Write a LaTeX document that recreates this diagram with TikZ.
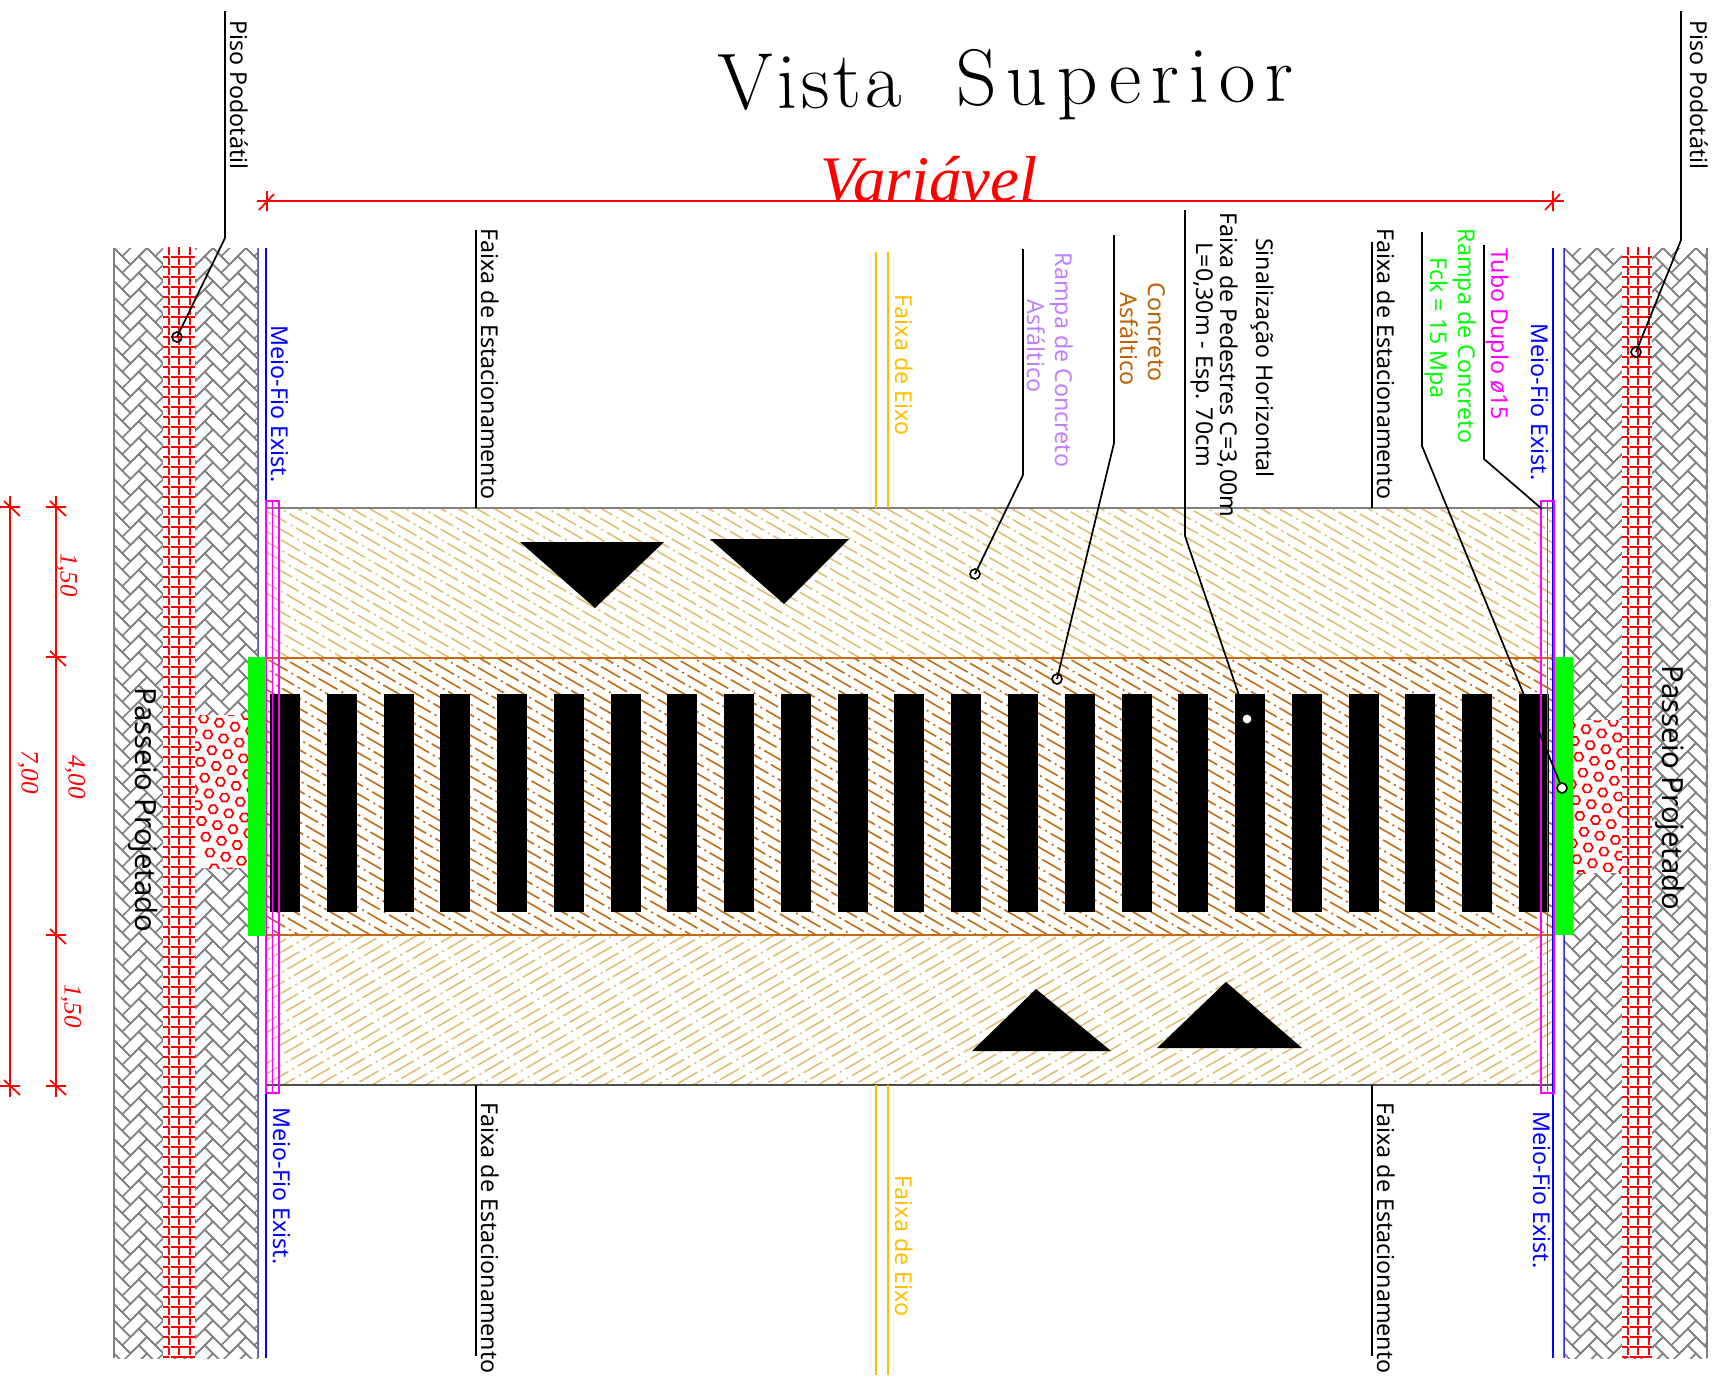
\documentclass[tikz,border=0pt]{standalone}
\usepackage{fontspec}
\setmainfont{Noto Sans}
\newfontfamily\titlefont{Latin Modern Roman}
\newfontfamily\dimfont[Ligatures=TeX]{Liberation Serif}
\usepackage{xcolor}
\usepackage{tikz}
\usetikzlibrary{positioning, calc}

\definecolor{beige}{HTML}{E0C070}
\definecolor{brownhatch}{HTML}{C46A10}
\definecolor{eixo}{HTML}{FFBF00}
\definecolor{rampa}{HTML}{BF80FF}
\definecolor{concreto}{HTML}{BF6000}
\definecolor{paving}{HTML}{808080}
\definecolor{tubo}{HTML}{FF00FF}

\begin{document}
\begin{tikzpicture}[
    x=1pt, y=-1pt,
    txt/.style={rotate=-90, inner sep=0pt, font=\fontsize{23.2}{24}\selectfont},
    bigtxt/.style={rotate=-90, inner sep=0pt, font=\fontsize{29.2}{31}\selectfont},
    dimtxt/.style={rotate=-90, inner sep=0pt, text=red, font=\dimfont\itshape\fontsize{25}{25}\selectfont},
    dimline/.style={draw=red, line width=1.7pt},
    leader/.style={draw=black, line width=1.7pt},
    leaderdot/.style={circle, draw=black, line width=1.6pt, minimum size=10pt, inner sep=0pt},
    tile/.style={draw=paving, line width=1.5pt},
    hatchline/.style={line width=1.6pt, dash pattern=on 22pt off 4.5pt on 2pt off 4.2pt},
    hexring/.style={draw=red, line width=1.7pt}
]
\useasboundingbox (0,0) rectangle (1715,1376);

% Paving on both sides
\foreach \xa/\xb in {114/258, 1564/1707} {
    \begin{scope}
    \clip (\xa,248) rectangle (\xb,1358);
    \foreach \j in {-1,...,5} {
        \foreach \i in {-1,...,68} {
            \draw[tile, shift={(\xa+33*\j,248+16.5*\i)}, rotate=-45] (0,0) rectangle (23.3,11.67) (23.3,-11.67) rectangle (35,11.67);
        }
    }
    \end{scope}
    \draw[draw=paving, line width=2pt] (\xa,248) -- (\xa,1358);
    \draw[draw=paving, line width=2pt] (\xb,248) -- (\xb,1358);
}

% Red mesh of the tactile floor
\foreach \xa/\xb in {163/195, 1622/1652} {
    \fill[white] (\xa,248) rectangle (\xb,1358);
    \foreach \k in {0,...,110} {
        \draw[red, line width=1.7pt, dash pattern=on 6pt off 1.5pt on 30pt] (\xa,257+10*\k) -- (\xb,257+10*\k);
    }
    \foreach \d in {6,16,27} {
        \draw[red, line width=1.7pt, dash pattern=on 8pt off 2pt] (\xa+\d,247) -- (\xa+\d,1358);
    }
}

% Rounded stones beside the ramps
\foreach \xa/\xb/\ya/\yb/\xo/\yo in {195/248/715/868/219.3/722.7, 1573/1622/720/873/1586/729.3} {
    \begin{scope}
    \clip (\xa,\ya) rectangle (\xb,\yb);
    \fill[white] (\xa,\ya) rectangle (\xb,\yb);
    \foreach \i in {-3,...,3} {
        \foreach \j in {-3,...,11} {
            \draw[hexring, shift={(\xo+15.7*\i+4.2*\j,\yo+4.1*\i+15.8*\j)}] (0:4.6) -- (60:4.6) -- (120:4.6) -- (180:4.6) -- (240:4.6) -- (300:4.6) -- cycle;
        }
    }
    \end{scope}
}

% Road hatches
\begin{scope}
\clip (266,508) rectangle (1553,658);
\foreach \k in {0,...,90} {
    \draw[hatchline, beige] (-398+6.7*\k,-634.8+14.166*\k) -- ++(2000,1154.7);
}
\end{scope}
\begin{scope}
\clip (266,658) rectangle (1553,935);
\foreach \k in {0,...,120} {
    \draw[hatchline, brownhatch] (-681+6.7*\k,-825.4+14.166*\k) -- ++(2400,1385.6);
}
\end{scope}
\begin{scope}
\clip (266,935) rectangle (1553,1085);
\foreach \k in {0,...,90} {
    \draw[hatchline, beige] (-397.5+6.7*\k,1313+6.43*\k) -- ++(2000,-1154.7);
}
\end{scope}

% Road borders
\draw[paving, line width=2pt] (266,508) -- (1553,508);
\draw[brownhatch, line width=2pt] (266,658) -- (1553,658);
\draw[brownhatch, line width=2pt] (266,935) -- (1553,935);
\draw[black!70, line width=1.6pt] (266,1085) -- (1553,1085);

% Crossing bars
\foreach \i in {0,...,22} {
    \fill[black] (270+56.77*\i,694) rectangle ++(30,218);
}

% Arrows on the road
\fill[black] (520,542) -- (664,542) -- (595,608) -- cycle;
\fill[black] (710,539) -- (849,539) -- (784,604) -- cycle;
\fill[black] (972,1051) -- (1111,1051) -- (1036,989) -- cycle;
\fill[black] (1157,1048) -- (1302,1048) -- (1226,982) -- cycle;

% Kerb lines
\draw[blue, line width=1.7pt] (266,248) -- (266,1358);
\draw[blue, line width=1.7pt] (1553,248) -- (1553,1358);
\draw[blue!60!gray, line width=1pt] (1564,248) -- (1564,1358);
\draw[blue!30!gray, line width=1pt] (258,248) -- (258,1358);
\draw[tubo, line width=1.7pt] (266,501) rectangle (279,1093);
\draw[tubo, line width=1.7pt] (272.5,501) -- (272.5,1093);
\draw[tubo, line width=1.7pt] (1541,501) rectangle (1554,1093);
\draw[tubo, line width=1.7pt] (1547.5,501) -- (1547.5,1093);

% Ramps
\fill[green] (248,657) rectangle (266,936);
\fill[green] (1555,657) rectangle (1573,935);

% Axis lines
\foreach \x in {876, 888} {
    \draw[eixo, line width=1.7pt] (\x,252) -- (\x,508);
    \draw[eixo, line width=1.7pt] (\x,1085) -- (\x,1375);
}

% Title
\node[inner sep=0pt, rotate=0.8, font=\titlefont\fontsize{80}{80}\selectfont] (title) at (1006,85) {{\addfontfeature{LetterSpace=4.5}Vista}\hspace{54pt}{\addfontfeature{LetterSpace=12}Superior}};
\node[inner sep=0pt, anchor=base, text=red, font=\dimfont\itshape\fontsize{65}{65}\selectfont] (variavel) at (929,201) {Variável};

% Dimensions
\coordinate (topA) at (267,201);
\coordinate (topB) at (1553,201);
\draw[dimline] ($(topA)+(-10,0)$) -- ($(topB)+(11,0)$);
\foreach \p in {topA, topB} {
    \draw[dimline] (\p)+(0,-10) -- +(0,10) +(-8,9) -- +(7,-7);
}
\coordinate (sideA) at (10,507);
\coordinate (sideB) at (10,1086);
\coordinate (partA) at (56,507);
\coordinate (partB) at (56,657);
\coordinate (partC) at (56,935);
\coordinate (partD) at (56,1086);
\draw[dimline] ($(sideA)+(0,-11)$) -- ($(sideB)+(0,11)$);
\draw[dimline] ($(partA)+(0,-11)$) -- ($(partD)+(0,11)$);
\foreach \p in {sideA, sideB, partA, partB, partC, partD} {
    \draw[dimline] (\p)+(-10,0) -- +(10,0) +(-6,-6) -- +(10,9);
}
\node[dimtxt] (d150a) at (67,575) {1,50};
\node[dimtxt] (d400) at (75,777) {4,00};
\node[dimtxt] (d700) at (28,772) {7,00};
\node[dimtxt] (d150b) at (71,1006) {1,50};

% Leaders and their end points
\node[leaderdot] (dotPisoL) at (177,337) {};
\coordinate (pisoLa) at (225,11);
\coordinate (pisoLb) at (225,238);
\draw[leader] (pisoLa) -- (pisoLb) -- (dotPisoL.center);
\node[leaderdot] (dotPisoR) at (1636,352) {};
\coordinate (pisoRa) at (1681,11);
\coordinate (pisoRb) at (1681,240);
\draw[leader] (pisoRa) -- (pisoRb) -- (dotPisoR.center);
\node[leaderdot] (dotRampaAsf) at (975,574) {};
\coordinate (rampaAsfA) at (1023,249);
\coordinate (rampaAsfB) at (1023,475);
\draw[leader] (rampaAsfA) -- (rampaAsfB) -- (dotRampaAsf.center);
\node[leaderdot] (dotConcreto) at (1057,679) {};
\coordinate (concretoA) at (1114,235);
\coordinate (concretoB) at (1114,443);
\draw[leader] (concretoA) -- (concretoB) -- (dotConcreto.center);
\coordinate (sinalA) at (1185,210);
\coordinate (sinalB) at (1185,536);
\coordinate (sinalC) at (1247,719);
\draw[leader] (sinalA) -- (sinalB) -- (sinalC);
\node[leaderdot, minimum size=7pt, draw=white, fill=white] (dotSinal) at (sinalC) {};
\coordinate (rampaConA) at (1422,232);
\coordinate (rampaConB) at (1422,446);
\coordinate (rampaConC) at (1562,788);
\draw[leader] (rampaConA) -- (rampaConB) -- (rampaConC);
\node[leaderdot, fill=white] (dotRampaCon) at (rampaConC) {};
\coordinate (tuboA) at (1484,245);
\coordinate (tuboB) at (1484,459);
\coordinate (tuboC) at (1542,509);
\draw[leader] (tuboA) -- (tuboB) -- (tuboC);
\foreach \x/\ya/\yb in {476/230/508, 1372/242/508, 476/1085/1356, 1372/1085/1356} {
    \draw[leader] (\x,\ya) -- (\x,\yb);
}

% Labels
\node[txt] (pisoL) at (239,95) {Piso Podotátil};
\node[txt] (pisoR) at (1699,95) {Piso Podotátil};
\node[txt] (estacA) at (490,364) {Faixa de Estacionamento};
\node[txt] (estacB) at (1386,364) {Faixa de Estacionamento};
\node[txt] (estacC) at (490,1238) {Faixa de Estacionamento};
\node[txt] (estacD) at (1386,1238) {Faixa de Estacionamento};
\node[txt, text=eixo] (eixoA) at (904,365) {Faixa de Eixo};
\node[txt, text=eixo] (eixoB) at (904,1246) {Faixa de Eixo};
\node[txt, text=blue] (meioA) at (280,404) {Meio-Fio Exist.};
\node[txt, text=blue] (meioB) at (282,1186) {Meio-Fio Exist.};
\node[txt, text=blue] (meioC) at (1540,402) {Meio-Fio Exist.};
\node[txt, text=blue] (meioD) at (1542,1190) {Meio-Fio Exist.};
\node[txt, text=rampa] (rampaL1) at (1062,360) {Rampa de Concreto};
\node[txt, text=rampa] (rampaL2) at (1036,346) {Asfáltico};
\node[txt, text=concreto] (concL1) at (1157,332) {Concreto};
\node[txt, text=concreto] (concL2) at (1129,339) {Asfáltico};
\node[txt] (sinalL1) at (1263,358) {Sinalização Horizontal};
\node[txt] (sinalL2) at (1228,365) {Faixa de Pedestres C=3,00m};
\node[txt] (sinalL3) at (1202,355) {L=0,30m - Esp. 70cm};
\node[txt, text=tubo] (tuboL) at (1498,334) {Tubo Duplo {\itshape ø}15};
\node[txt, text=green] (rampaR1) at (1465,336) {Rampa de Concreto};
\node[txt, text=green] (rampaR2) at (1437,328) {Fck = 15 Mpa};
\node[bigtxt] (passeioL) at (143,810) {Passeio Projetado};
\node[bigtxt] (passeioR) at (1670,788) {Passeio Projetado};

\end{tikzpicture}
\end{document}
